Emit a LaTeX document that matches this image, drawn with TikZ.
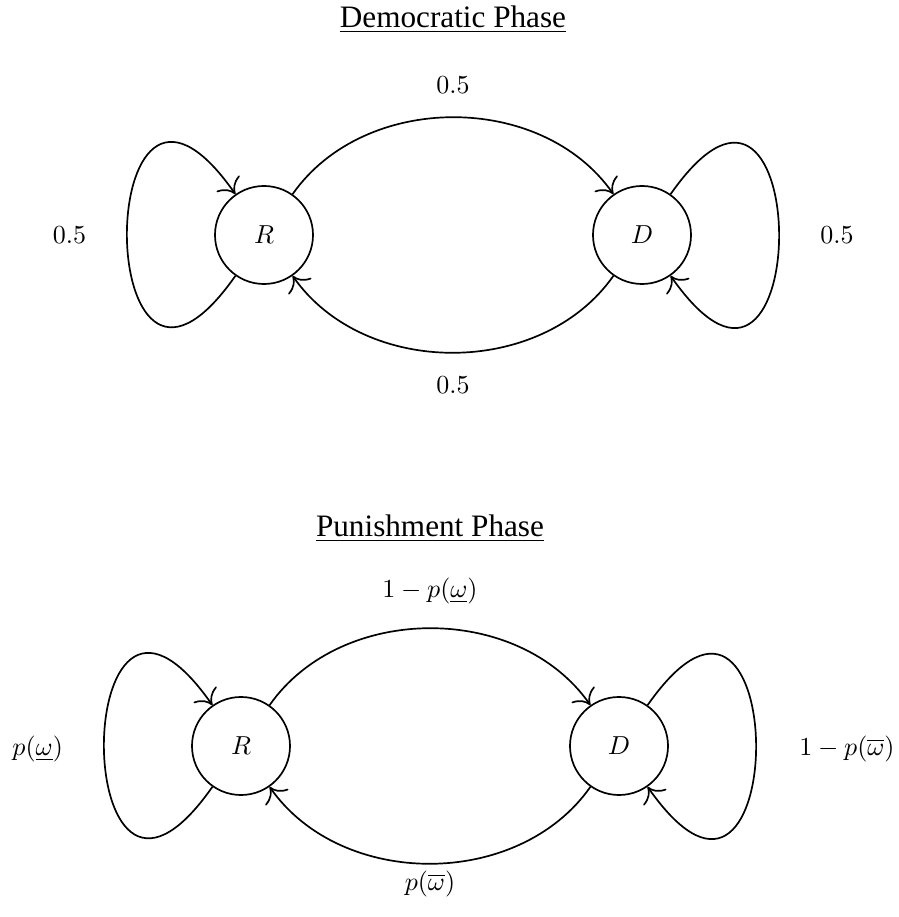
\documentclass[tikz,border=0pt]{standalone}
\usepackage{fontspec}
\usetikzlibrary{arrows.meta}
\newfontfamily\titlefont{Liberation Serif}
\begin{document}
\begin{tikzpicture}[x=0.3846pt,y=0.3846pt,
  state/.style={circle,draw,line width=0.65pt,minimum size=37.7pt,inner sep=0pt},
  edge/.style={-{To[scale=1.7]},line width=0.65pt},
  lbl/.style={inner sep=0pt},
  heading/.style={anchor=base,inner sep=0pt,font=\titlefont\fontsize{12}{14}\selectfont}]
\useasboundingbox (0,0) rectangle (898,917);

% Democratic phase
\node[heading] (t1) at (453,889) {\underline{Democratic Phase}};
\node[state] (R1) at (264,682) {$R$};
\node[state] (D1) at (642,682) {$D$};
\draw[edge] (R1.235) .. controls +(235:252) and +(125:252) .. (R1.125);
\draw[edge] (D1.55) .. controls +(55:252) and +(305:252) .. (D1.305);
\draw[edge] (R1.55) .. controls +(55:125) and +(125:125) .. (D1.125);
\draw[edge] (D1.235) .. controls +(235:125) and +(305:125) .. (R1.305);
\node[lbl] (a1) at (453,832) {$0.5$};
\node[lbl] (b1) at (453,532) {$0.5$};
\node[lbl] (l1) at (69.5,682) {$0.5$};
\node[lbl] (r1) at (837,682) {$0.5$};

% Punishment phase
\node[heading] (t2) at (430,380) {\underline{Punishment Phase}};
\node[state] (R2) at (241,171) {$R$};
\node[state] (D2) at (619,171) {$D$};
\draw[edge] (R2.235) .. controls +(235:252) and +(125:252) .. (R2.125);
\draw[edge] (D2.55) .. controls +(55:252) and +(305:252) .. (D2.305);
\draw[edge] (R2.55) .. controls +(55:125) and +(125:125) .. (D2.125);
\draw[edge] (D2.235) .. controls +(235:125) and +(305:125) .. (R2.305);
\node[lbl] (a2) at (430,326) {$1-p(\underline{\omega})$};
\node[lbl] (b2) at (430,33) {$p(\overline{\omega})$};
\node[lbl] (l2) at (37.7,168) {$p(\underline{\omega})$};
\node[lbl] (r2) at (847,168) {$1-p(\overline{\omega})$};
\end{tikzpicture}
\end{document}
